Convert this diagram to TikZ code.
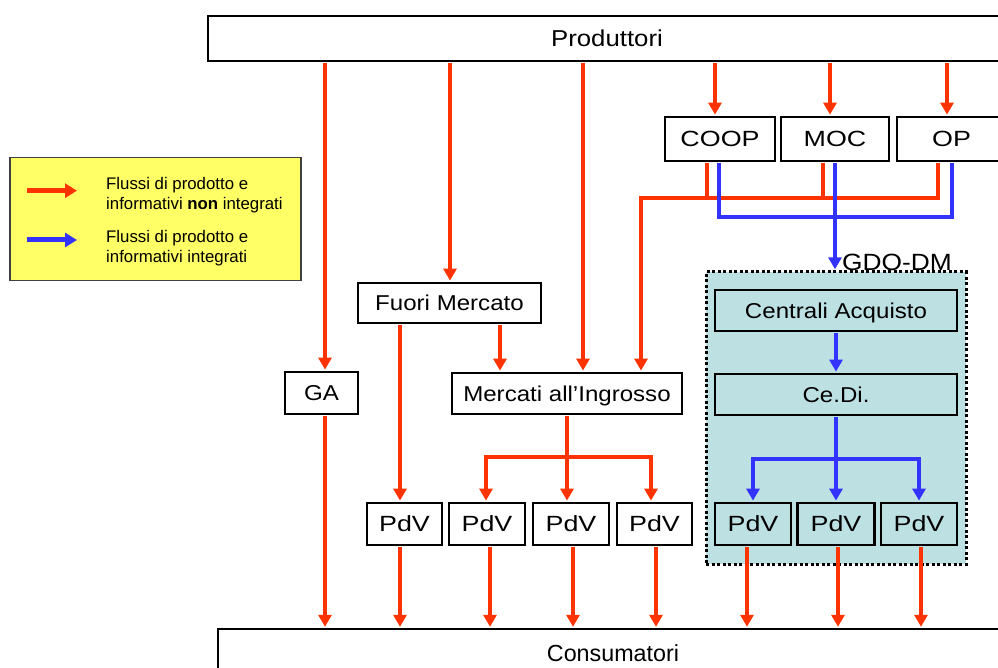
\documentclass[tikz,border=0pt]{standalone}
\usepackage{fontspec}
\setmainfont{Liberation Sans}
\newfontfamily\lblfont[FakeStretch=1.12]{Liberation Sans}
\newfontfamily\widefont[FakeStretch=1.22]{Liberation Sans}
\usetikzlibrary{arrows.meta}
\definecolor{fr}{HTML}{FF3300}
\definecolor{fb}{HTML}{3333FF}
\definecolor{gdo}{HTML}{BDE0E3}
\definecolor{leg}{HTML}{FFFF66}
\definecolor{legb}{HTML}{404040}
\tikzset{
  box/.style={draw=black, line width=2.4pt, fill=white, inner sep=0pt,
    font=\lblfont\fontsize{21.5}{24}\selectfont, text height=15.4pt, text depth=0pt},
  widebox/.style={box, font=\widefont\fontsize{22}{24}\selectfont, text height=15.8pt},
  gbox/.style={box, fill=gdo},
  gwidebox/.style={widebox, fill=gdo},
  rl/.style={draw=fr, line width=4pt, shorten <=1.2pt},
  ra/.style={rl, -{Triangle[width=13pt,length=12pt]}, shorten >=1.2pt},
  bl/.style={draw=fb, line width=4pt, shorten <=1.2pt},
  ba/.style={bl, -{Triangle[width=13pt,length=12pt]}, shorten >=1.2pt},
  legtext/.style={anchor=base west, inner sep=0pt, font=\fontsize{16.8}{20}\selectfont}
}
\begin{document}
\begin{tikzpicture}[x=1pt,y=-1pt]
\useasboundingbox (0,0) rectangle (998,668);
% GDO-DM area
\node[draw=black, line width=3pt, dash pattern=on 3pt off 2.5pt, fill=gdo,
  minimum width=260pt, minimum height=292pt, inner sep=0pt] (G) at (836,418) {};
\node[anchor=base, inner sep=0pt, font=\lblfont\fontsize{23.5}{26}\selectfont] (GL) at (897,270) {GDO-DM};
% boxes
\node[box, minimum width=798pt, minimum height=45pt, font=\lblfont\fontsize{23}{26}\selectfont, text height=16.5pt] (P) at (607,38.5) {Produttori};
\node[widebox, minimum width=110pt, minimum height=44pt] (COOP) at (720,139) {COOP};
\node[widebox, minimum width=108pt, minimum height=44pt] (MOC) at (835,139) {MOC};
\node[widebox, minimum width=109pt, minimum height=44pt] (OP) at (951.5,139) {OP};
\node[box, minimum width=183pt, minimum height=40pt] (FM) at (449.5,303) {Fuori Mercato};
\node[box, minimum width=73pt, minimum height=42pt] (GA) at (321.5,393) {GA};
\node[box, minimum width=230pt, minimum height=41pt] (MI) at (567,393.5) {Mercati all’Ingrosso};
\node[gbox, minimum width=242pt, minimum height=41pt] (CA) at (836,310.5) {Centrali Acquisto};
\node[gbox, minimum width=242pt, minimum height=41pt] (CD) at (836,394.5) {Ce.Di.};
\node[widebox, minimum width=75pt, minimum height=42pt] (V1) at (404.5,524) {PdV};
\node[widebox, minimum width=76pt, minimum height=42pt] (V2) at (487,524) {PdV};
\node[widebox, minimum width=76pt, minimum height=42pt] (V3) at (571,524) {PdV};
\node[widebox, minimum width=75pt, minimum height=42pt] (V4) at (654.5,524) {PdV};
\node[gwidebox, minimum width=76pt, minimum height=42pt] (V5) at (753,524) {PdV};
\node[gwidebox, minimum width=77pt, minimum height=42pt] (V6) at (836,524) {PdV};
\node[gwidebox, minimum width=76pt, minimum height=42pt] (V7) at (919,524) {PdV};
\node[box, minimum width=790pt, minimum height=47pt, font=\fontsize{23.3}{26}\selectfont, text height=16.7pt] (C) at (613,652.7) {Consumatori};
% red flows from Produttori
\draw[ra] (325,0 |- P.south) -- (325,0 |- GA.north);
\draw[ra] (450,0 |- P.south) -- (450,0 |- FM.north);
\draw[ra] (583,0 |- P.south) -- (583,0 |- MI.north);
\draw[ra] (715,0 |- P.south) -- (715,0 |- COOP.north);
\draw[ra] (830,0 |- P.south) -- (830,0 |- MOC.north);
\draw[ra] (947,0 |- P.south) -- (947,0 |- OP.north);
\draw[ra] (500,0 |- FM.south) -- (500,0 |- MI.north);
\draw[ra] (400,0 |- FM.south) -- (400,0 |- V1.north);
% red bus from COOP / MOC / OP to Mercati
\coordinate (rbus) at (0,198.5);
\draw[ra, line join=miter] (938,0 |- OP.south) -- (938,0 |- rbus) -- (641,0 |- rbus) -- (641,0 |- MI.north);
\draw[rl] (707,0 |- COOP.south) -- (707,0 |- rbus);
\draw[rl] (822.5,0 |- MOC.south) -- (822.5,0 |- rbus);
% blue bus from COOP / MOC / OP to GDO
\coordinate (bbus) at (0,216.7);
\draw[bl, line join=miter, shorten >=1.2pt] (719,0 |- COOP.south) -- (719,0 |- bbus) -- (951.7,0 |- bbus) -- (951.7,0 |- OP.south);
\draw[ba] (835,0 |- MOC.south) -- (835,0 |- G.north);
% Mercati split
\coordinate (msplit) at (567,457);
\draw[rl] (567,0 |- MI.south) -- (msplit);
\draw[ra, shorten <=0pt] (msplit) -| (486,0 |- V2.north);
\draw[ra, shorten <=0pt] (msplit) -- (567,0 |- V3.north);
\draw[ra, shorten <=0pt] (msplit) -| (651,0 |- V4.north);
% GDO internal
\draw[ba] (CA.south) -- (CD.north);
\coordinate (bsplit) at (836,459);
\draw[bl] (CD.south) -- (bsplit);
\draw[ba, shorten <=0pt] (bsplit) -| (753,0 |- V5.north);
\draw[ba, shorten <=0pt] (bsplit) -- (836,0 |- V6.north);
\draw[ba, shorten <=0pt] (bsplit) -| (919,0 |- V7.north);
% to Consumatori
\draw[ra] (325,0 |- GA.south) -- (325,0 |- C.north);
\draw[ra] (400,0 |- V1.south) -- (400,0 |- C.north);
\draw[ra] (490,0 |- V2.south) -- (490,0 |- C.north);
\draw[ra] (573,0 |- V3.south) -- (573,0 |- C.north);
\draw[ra] (656,0 |- V4.south) -- (656,0 |- C.north);
\draw[ra] (747,0 |- V5.south) -- (747,0 |- C.north);
\draw[ra] (838,0 |- V6.south) -- (838,0 |- C.north);
\draw[ra] (921,0 |- V7.south) -- (921,0 |- C.north);
% legend
\node[draw=legb, fill=leg, line width=1.5pt, minimum width=291pt, minimum height=123pt, inner sep=0pt] (L) at (155.6,218.9) {};
\coordinate (lr1) at (27,190.7);
\coordinate (lr2) at (77,190.7);
\coordinate (lb1) at (27,240);
\coordinate (lb2) at (77,240);
\draw[draw=fr, line width=5pt, -{Triangle[width=14pt,length=12pt]}] (lr1) -- (lr2);
\draw[draw=fb, line width=5pt, -{Triangle[width=14pt,length=12pt]}] (lb1) -- (lb2);
\node[legtext] (t1) at (106,189.3) {Flussi di prodotto e};
\node[legtext] (t2) at (106,209.3) {informativi \textbf{non} integrati};
\node[legtext] (t3) at (106,242.7) {Flussi di prodotto e};
\node[legtext] (t4) at (106,262.7) {informativi integrati};
\end{tikzpicture}
\end{document}
